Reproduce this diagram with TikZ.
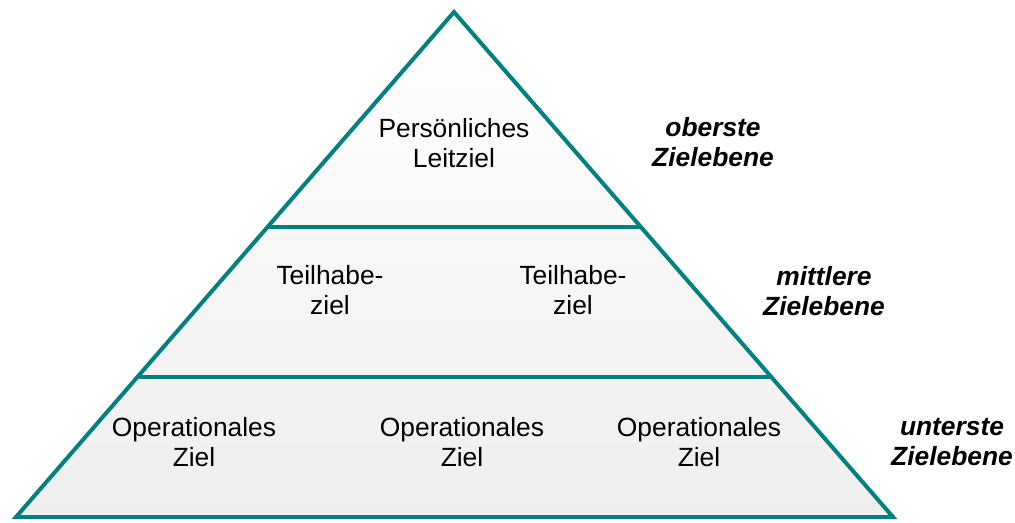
\documentclass[tikz,border=0pt]{standalone}
\usepackage{fontspec}
\setmainfont{Liberation Sans}
\usetikzlibrary{calc,positioning}
\definecolor{teal}{RGB}{0,128,128}
\definecolor{bandgray}{RGB}{238,238,238}
\tikzstyle{level} = [teal, line width=0.08cm]
\tikzstyle{goal} = [align=center, font=\fontsize{15}{17}\selectfont, inner sep=1pt]
\tikzstyle{tier} = [align=center, font=\fontsize{15}{17}\selectfont\bfseries\itshape, inner sep=1pt]

\begin{document}
\begin{tikzpicture}[x=0.02cm, y=-0.02cm]
      \useasboundingbox (0,0) rectangle (1015,522);

      % pyramid
      \coordinate (apex) at (454,12);
      \coordinate (bl) at (16,517);
      \coordinate (br) at (893,517);
      \shade[top color=white, bottom color=bandgray] (apex) -- (bl) -- (br) -- cycle;

      % dividers
      \coordinate (ml) at ($(apex)!0.4257!(bl)$);
      \coordinate (mr) at ($(apex)!0.4257!(br)$);
      \coordinate (ul) at ($(apex)!0.7228!(bl)$);
      \coordinate (ur) at ($(apex)!0.7228!(br)$);
      \draw[level] (ml) -- (mr);
      \draw[level] (ul) -- (ur);
      \draw[level] (apex) -- (bl) -- (br) -- cycle;

      % goals
      \node[goal] (leit) at (454,143) {Persönliches\\Leitziel};
      \node[goal] (teil1) at (330,290) {Teilhabe-\\ziel};
      \node[goal] (teil2) at (573,290) {Teilhabe-\\ziel};
      \node[goal] (op1) at (194,442) {Operationales\\Ziel};
      \node[goal] (op2) at (462,442) {Operationales\\Ziel};
      \node[goal] (op3) at (699,442) {Operationales\\Ziel};

      % levels
      \node[tier] (top) at (713,142) {oberste\\Zielebene};
      \node[tier] (mid) at (824,291) {mittlere\\Zielebene};
      \node[tier] (low) at (952,442) {unterste\\Zielebene};
    \end{tikzpicture}
\end{document}
